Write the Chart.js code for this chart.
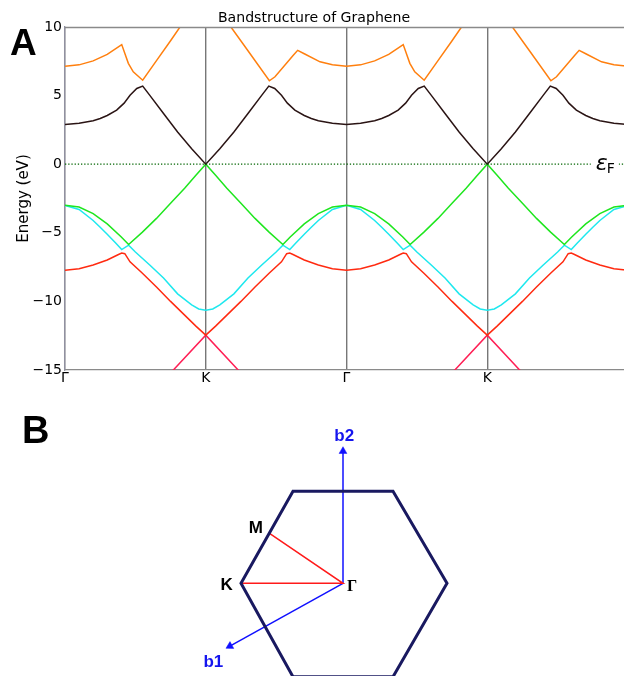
<!DOCTYPE html>
<html><head><meta charset="utf-8">
<script src="https://cdn.jsdelivr.net/npm/chart.js@4.4.1/dist/chart.umd.min.js"></script>
<style>
html,body{margin:0;padding:0;background:#fff;overflow:hidden;width:624px;height:676px;position:relative}
#c1{position:absolute;left:0;top:0}
#c2{position:absolute;left:0;top:400px}
</style></head><body>
<canvas id="c1" width="628" height="400"></canvas>
<canvas id="c2" width="624" height="276"></canvas>
<script>
// ---------- Panel A data (x: path coordinate, Γ=0, K=1, Γ=2, K=3, Γ=4; y: energy in eV) ----------
const xTickLabels = ['Γ', 'K', 'Γ', 'K', ''];
const yTickValues = [-15, -10, -5, 0, 5, 10];
const fermiLevel = 0;
const fermiLabelX = 3.778;

const orangeBand = [[0,7.14],[0.1,7.24],[0.2,7.53],[0.3,8.0],[0.403,8.72],[0.45,7.35],[0.485,6.73],[0.552,6.12],[0.65,7.55],[0.75,9.0],[0.817,10.0],[1.0,12.7],[1.179,10.0],[1.3,8.27],[1.452,6.08],[1.492,6.37],[1.622,7.94],[1.653,8.3],[1.7,8.05],[1.812,7.46],[1.9,7.25],[2.0,7.14],
  [2.1,7.24],[2.2,7.53],[2.3,8.0],[2.403,8.72],[2.45,7.35],[2.485,6.73],[2.552,6.12],[2.65,7.55],[2.75,9.0],[2.817,10.0],[3.0,12.7],[3.179,10.0],[3.3,8.27],[3.452,6.08],[3.492,6.37],[3.622,7.94],[3.653,8.3],[3.7,8.05],[3.812,7.46],[3.9,7.25],[4.0,7.14]];

const darkBand = [[0,2.89],[0.1,2.98],[0.2,3.17],[0.25,3.33],[0.3,3.55],[0.367,3.94],[0.42,4.45],[0.462,5.03],[0.51,5.52],[0.552,5.69],[0.6,5.05],[0.7,3.7],[0.8,2.35],[0.9,1.12],[1.0,0],[1.1,1.12],[1.2,2.35],[1.3,3.7],[1.4,5.05],[1.448,5.69],[1.49,5.52],[1.538,5.03],[1.58,4.45],[1.633,3.94],[1.7,3.55],[1.75,3.33],[1.8,3.17],[1.9,2.98],[2.0,2.89],
  [2.1,2.98],[2.2,3.17],[2.25,3.33],[2.3,3.55],[2.367,3.94],[2.42,4.45],[2.462,5.03],[2.51,5.52],[2.552,5.69],[2.6,5.05],[2.7,3.7],[2.8,2.35],[2.9,1.12],[3.0,0],[3.1,1.12],[3.2,2.35],[3.3,3.7],[3.4,5.05],[3.448,5.69],[3.49,5.52],[3.538,5.03],[3.58,4.45],[3.633,3.94],[3.7,3.55],[3.75,3.33],[3.8,3.17],[3.9,2.98],[4.0,2.89]];

const greenBand = [[0,-3.0],[0.1,-3.12],[0.2,-3.6],[0.3,-4.35],[0.4,-5.3],[0.452,-5.85],[0.55,-4.95],[0.65,-3.95],[0.75,-2.85],[0.85,-1.75],[0.93,-0.8],[1.0,0],[1.07,-0.8],[1.15,-1.75],[1.25,-2.85],[1.35,-3.95],[1.45,-4.95],[1.548,-5.85],[1.6,-5.3],[1.7,-4.35],[1.8,-3.6],[1.9,-3.12],[2.0,-3.0],
  [2.1,-3.12],[2.2,-3.6],[2.3,-4.35],[2.4,-5.3],[2.452,-5.85],[2.55,-4.95],[2.65,-3.95],[2.75,-2.85],[2.85,-1.75],[2.93,-0.8],[3.0,0],[3.07,-0.8],[3.15,-1.75],[3.25,-2.85],[3.35,-3.95],[3.45,-4.95],[3.548,-5.85],[3.6,-5.3],[3.7,-4.35],[3.8,-3.6],[3.9,-3.12],[4.0,-3.0]];

const cyanBand = [[0,-3.0],[0.1,-3.3],[0.2,-4.1],[0.25,-4.6],[0.3,-5.1],[0.36,-5.75],[0.403,-6.22],[0.452,-5.9],[0.5,-6.4],[0.604,-7.36],[0.7,-8.3],[0.8,-9.45],[0.9,-10.25],[0.95,-10.55],[1.0,-10.64],[1.05,-10.55],[1.1,-10.25],[1.2,-9.45],[1.3,-8.3],[1.396,-7.36],[1.5,-6.4],[1.548,-5.9],[1.597,-6.22],[1.64,-5.75],[1.7,-5.1],[1.75,-4.6],[1.8,-4.1],[1.9,-3.3],[2.0,-3.0],
  [2.1,-3.3],[2.2,-4.1],[2.25,-4.6],[2.3,-5.1],[2.36,-5.75],[2.403,-6.22],[2.452,-5.9],[2.5,-6.4],[2.604,-7.36],[2.7,-8.3],[2.8,-9.45],[2.9,-10.25],[2.95,-10.55],[3.0,-10.64],[3.05,-10.55],[3.1,-10.25],[3.2,-9.45],[3.3,-8.3],[3.396,-7.36],[3.5,-6.4],[3.548,-5.9],[3.597,-6.22],[3.64,-5.75],[3.7,-5.1],[3.75,-4.6],[3.8,-4.1],[3.9,-3.3],[4.0,-3.0]];

const redBand = [[0,-7.73],[0.1,-7.62],[0.2,-7.35],[0.3,-6.98],[0.38,-6.58],[0.403,-6.48],[0.425,-6.52],[0.462,-7.12],[0.55,-7.95],[0.65,-8.95],[0.75,-10.0],[0.85,-11.0],[0.93,-11.8],[1.0,-12.46],[1.07,-11.8],[1.15,-11.0],[1.25,-10.0],[1.35,-8.95],[1.45,-7.95],[1.538,-7.12],[1.575,-6.52],[1.597,-6.48],[1.62,-6.58],[1.7,-6.98],[1.8,-7.35],[1.9,-7.62],[2.0,-7.73],
  [2.1,-7.62],[2.2,-7.35],[2.3,-6.98],[2.38,-6.58],[2.403,-6.48],[2.425,-6.52],[2.462,-7.12],[2.55,-7.95],[2.65,-8.95],[2.75,-10.0],[2.85,-11.0],[2.93,-11.8],[3.0,-12.46],[3.07,-11.8],[3.15,-11.0],[3.25,-10.0],[3.35,-8.95],[3.45,-7.95],[3.538,-7.12],[3.575,-6.52],[3.597,-6.48],[3.62,-6.58],[3.7,-6.98],[3.8,-7.35],[3.9,-7.62],[4.0,-7.73]];

const pinkBand = [[0.74,-15.33],[1.0,-12.46],[1.26,-15.33],[2.0,null],[2.74,-15.33],[3.0,-12.46],[3.26,-15.33]];

const fermiLine = [[0,0],[4,0]];

// ---------- Panel B data (reciprocal space, Γ at origin) ----------
const hexagon = [[-0.50,-0.935],[-1.02,0],[-0.50,0.92],[0.50,0.92],[1.04,0],[0.50,-0.935],[-0.50,-0.935]];
const pathKGammaM = [[-1.02,0],[0,0],[-0.735,0.50]];
const vecB2 = [[0,0],[0,1.321]];
const vecB1 = [[0,0],[-1.131,-0.628]];
const arrowRotB2 = 0, arrowRotB1 = 241;
const bzLabels = [
  {text:'b2', x:0.012, y:1.426, kind:'vec'},
  {text:'b1', x:-1.297, y:-0.834, kind:'vec'},
  {text:'M', x:-0.872, y:0.50, kind:'pt'},
  {text:'K', x:-1.163, y:-0.067, kind:'pt'},
  {text:'Γ', x:0.09, y:-0.074, kind:'gamma'}
];

const toXY = arr => arr.map(p => ({x:p[0], y:p[1]}));
const FONT = 'DejaVu Sans';

function band(arr, color, extra) {
  return Object.assign({data: toXY(arr), borderColor: color, borderWidth: 1.5, pointRadius: 0, fill: false, tension: 0, spanGaps: false}, extra || {});
}

const topExtras = {
  id: 'topExtras',
  afterDatasetsDraw(chart) {
    const {ctx, chartArea: a, scales: {x, y}} = chart;
    ctx.save();
    ctx.strokeStyle = '#8a8a8a'; ctx.lineWidth = 1.3;
    ctx.beginPath(); ctx.moveTo(a.left, a.top + 0.5); ctx.lineTo(a.right, a.top + 0.5); ctx.stroke();
    // Fermi level label
    const py = y.getPixelForValue(fermiLevel);
    const px = x.getPixelForValue(fermiLabelX);
    ctx.fillStyle = '#fff';
    ctx.fillRect(px - 6, py - 11, 28, 22);
    ctx.fillStyle = '#000';
    ctx.textBaseline = 'alphabetic'; ctx.textAlign = 'left';
    ctx.font = 'italic 22px "DejaVu Sans"';
    ctx.fillText('ε', px - 1, py + 6);
    ctx.font = '14px "DejaVu Sans"';
    ctx.fillText('F', px + 10, py + 9);
    ctx.restore();
  },
  afterDraw(chart) {
    const ctx = chart.ctx;
    ctx.save();
    ctx.fillStyle = '#000';
    ctx.font = 'bold 37px "Liberation Sans"';
    ctx.textBaseline = 'alphabetic'; ctx.textAlign = 'left';
    ctx.fillText('A', 10, 55);
    ctx.restore();
  }
};

new Chart(document.getElementById('c1'), {
  type: 'line',
  data: {datasets: [
    band(fermiLine, '#006400', {borderWidth: 1.2, borderDash: [1.3, 1.9]}),
    band(darkBand, '#2a1414'),
    band(orangeBand, '#ff7f0e'),
    band(greenBand, '#1ee61e'),
    band(cyanBand, '#1ee8ee'),
    band(redBand, '#ff2a10'),
    band(pinkBand, '#ff1f55')
  ]},
  options: {
    animation: false, responsive: false, devicePixelRatio: 1,
    layout: {padding: 0, autoPadding: false},
    plugins: {
      legend: {display: false}, tooltip: {enabled: false},
      title: {display: true, text: 'Bandstructure of Graphene', color: '#000',
        font: {family: FONT, size: 14.1, weight: 'normal'}, padding: {top: 10, bottom: 0.08}}
    },
    scales: {
      x: {type: 'linear', min: 0, max: 4,
        afterFit(s) { s.height = 30; },
        afterBuildTicks(s) { s.ticks = xTickLabels.map((_, i) => ({value: i})); },
        ticks: {autoSkip: false, maxRotation: 0, padding: 0, color: '#000', font: {family: FONT, size: 14},
          callback: v => xTickLabels[v] ?? ''},
        grid: {color: '#777', lineWidth: 1.4, drawTicks: false},
        border: {color: '#8a8a8a', width: 1.3}
      },
      y: {type: 'linear', min: -15, max: 10,
        afterFit(s) { s.width = 65; },
        afterBuildTicks(s) { s.ticks = yTickValues.map(v => ({value: v})); },
        ticks: {padding: 3, color: '#000', font: {family: FONT, size: 14},
          callback: v => String(v).replace('-', '\u2212')},
        grid: {display: false, drawTicks: false},
        border: {color: '#9090a0', width: 1.3},
        title: {display: true, text: 'Energy (eV)', color: '#000', font: {family: FONT, size: 15}, padding: {top: 15, bottom: 0}}
      }
    }
  },
  plugins: [topExtras]
});

// ---------- Panel B ----------
const bzExtras = {
  id: 'bzExtras',
  afterDatasetsDraw(chart) {
    const {ctx, scales: {x, y}} = chart;
    ctx.save();
    ctx.textAlign = 'center'; ctx.textBaseline = 'alphabetic';
    bzLabels.forEach(l => {
      if (l.kind === 'vec') { ctx.fillStyle = '#1515ee'; ctx.font = 'bold 17px "Liberation Sans"'; }
      else if (l.kind === 'pt') { ctx.fillStyle = '#000'; ctx.font = 'bold 17px "Liberation Sans"'; }
      else { ctx.fillStyle = '#000'; ctx.font = 'bold 16px "Liberation Serif"'; }
      ctx.fillText(l.text, x.getPixelForValue(l.x), y.getPixelForValue(l.y));
    });
    ctx.restore();
  },
  afterDraw(chart) {
    const ctx = chart.ctx;
    ctx.save();
    ctx.fillStyle = '#000';
    ctx.font = 'bold 38px "Liberation Sans"';
    ctx.textBaseline = 'alphabetic'; ctx.textAlign = 'left';
    ctx.fillText('B', 22, 42.5);
    ctx.restore();
  }
};

function arrow(arr, rot) {
  return {data: toXY(arr), showLine: true, borderColor: '#1010ff', borderWidth: 1.5,
    pointRadius: [0, 4.5], pointStyle: 'triangle', pointRotation: [0, rot],
    pointBackgroundColor: '#1010ff', pointBorderColor: '#1010ff', pointBorderWidth: 0.5};
}

new Chart(document.getElementById('c2'), {
  type: 'scatter',
  data: {datasets: [
    {data: toXY(hexagon), showLine: true, borderColor: '#191960', borderWidth: 3, pointRadius: 0, borderJoinStyle: 'miter'},
    {data: toXY(pathKGammaM), showLine: true, borderColor: '#ff1a1a', borderWidth: 1.5, pointRadius: 0},
    arrow(vecB2, arrowRotB2),
    arrow(vecB1, arrowRotB1)
  ]},
  options: {
    animation: false, responsive: false, devicePixelRatio: 1,
    layout: {padding: 0, autoPadding: false},
    plugins: {legend: {display: false}, tooltip: {enabled: false}},
    scales: {
      x: {type: 'linear', display: false, min: -3.43, max: 2.81},
      y: {type: 'linear', display: false, min: -0.927, max: 1.833}
    }
  },
  plugins: [bzExtras]
});
</script>
</body></html>
